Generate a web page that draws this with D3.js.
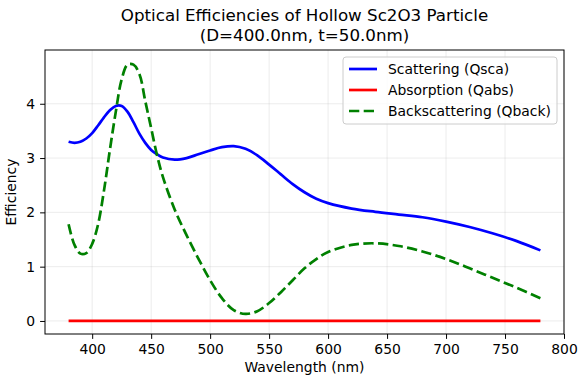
<!DOCTYPE html>
<html>
<head>
<meta charset="utf-8">
<script src="https://cdn.jsdelivr.net/npm/d3@7"></script>
<style>
  body { margin: 0; background: #fff; }
  svg { font-family: "DejaVu Sans", sans-serif; }
</style>
</head>
<body>
<div id="chart"></div>
<script>
// Data
const wavelengths = [380, 385, 390, 395, 400, 405, 410, 415, 420, 425, 430, 435, 440, 445, 450, 455, 460,
    470, 480, 490, 500, 510, 520, 530, 540, 550, 560, 570, 580, 590, 600, 620, 640, 660, 680, 700, 720, 740, 760, 780];
const qsca = [3.30, 3.28, 3.30, 3.36, 3.46, 3.60, 3.75, 3.88, 3.96, 3.96, 3.85, 3.66, 3.45, 3.28, 3.15, 3.07, 3.01,
    2.97, 3.00, 3.07, 3.14, 3.20, 3.22, 3.17, 3.05, 2.88, 2.70, 2.52, 2.37, 2.25, 2.17, 2.07, 2.01, 1.96, 1.91, 1.83, 1.73, 1.61, 1.47, 1.30];
const qabs = wavelengths.map(() => 0);
const qback = [1.78, 1.40, 1.24, 1.25, 1.42, 1.78, 2.40, 3.15, 3.85, 4.45, 4.72, 4.72, 4.55, 4.05, 3.55, 3.05, 2.65,
    2.05, 1.58, 1.15, 0.75, 0.42, 0.20, 0.13, 0.18, 0.33, 0.53, 0.75, 0.97, 1.14, 1.27, 1.40, 1.43, 1.38, 1.28, 1.14, 0.97, 0.79, 0.61, 0.42];
const xTicks = [400, 450, 500, 550, 600, 650, 700, 750, 800];
const yTicks = [0, 1, 2, 3, 4];

const series = [
    { name: "Scattering (Qsca)", values: qsca, color: "#0000ff", dash: null },
    { name: "Absorption (Qabs)", values: qabs, color: "#ff0000", dash: null },
    { name: "Backscattering (Qback)", values: qback, color: "#008000", dash: "10.3,4.4" }
];

const svg = d3.select("#chart").append("svg")
    .attr("width", 584)
    .attr("height", 388);

const margin = { top: 50, right: 20, bottom: 54, left: 45 };
const width = 584 - margin.left - margin.right;
const height = 388 - margin.top - margin.bottom;

const chart = svg.append("g")
    .attr("transform", `translate(${margin.left}, ${margin.top})`);

// Scales
const xScale = d3.scaleLinear().domain([360, 800]).range([0, width]);
const yScale = d3.scaleLinear().domain([-0.24, 4.99]).range([height, 0]);

// Grid
chart.append("g").selectAll("line")
    .data(xTicks)
    .enter().append("line")
    .attr("x1", d => xScale(d)).attr("x2", d => xScale(d))
    .attr("y1", 0).attr("y2", height)
    .attr("stroke", "#b0b0b0").attr("stroke-opacity", 0.3).attr("stroke-width", 0.8);

chart.append("g").selectAll("line")
    .data(yTicks)
    .enter().append("line")
    .attr("x1", 0).attr("x2", width)
    .attr("y1", d => yScale(d)).attr("y2", d => yScale(d))
    .attr("stroke", "#b0b0b0").attr("stroke-opacity", 0.3).attr("stroke-width", 0.8);

// Lines
const line = d3.line()
    .x((d, i) => xScale(wavelengths[i]))
    .y(d => yScale(d))
    .curve(d3.curveCatmullRom);

series.forEach(s => {
    chart.append("path")
        .datum(s.values)
        .attr("d", line)
        .attr("fill", "none")
        .attr("stroke", s.color)
        .attr("stroke-width", 2.7)
        .attr("stroke-dasharray", s.dash);
});

// Axes
const xAxis = chart.append("g")
    .attr("transform", `translate(0, ${height})`)
    .call(d3.axisBottom(xScale).tickValues(xTicks).tickSize(4.9).tickPadding(4.9));
const yAxis = chart.append("g")
    .call(d3.axisLeft(yScale).tickValues(yTicks).tickFormat(d3.format("d")).tickSize(4.9).tickPadding(4.9));

[xAxis, yAxis].forEach(a => {
    a.select(".domain").remove();
    a.selectAll("text").attr("font-size", "13.9px").attr("fill", "#000")
        .attr("font-family", "DejaVu Sans, sans-serif");
    a.selectAll("line").attr("stroke", "#000").attr("stroke-width", 1);
});

// Frame
chart.append("rect")
    .attr("width", width).attr("height", height)
    .attr("fill", "none").attr("stroke", "#000").attr("stroke-width", 1);

// Axis labels
chart.append("text")
    .attr("x", width / 2)
    .attr("y", height + 38)
    .attr("text-anchor", "middle")
    .attr("font-size", "13.9px")
    .text("Wavelength (nm)");

chart.append("text")
    .attr("transform", "rotate(-90)")
    .attr("x", -height / 2)
    .attr("y", -29)
    .attr("text-anchor", "middle")
    .attr("font-size", "13.9px")
    .text("Efficiency");

// Title
svg.append("text")
    .attr("x", margin.left + width / 2)
    .attr("y", 21)
    .attr("text-anchor", "middle")
    .attr("font-size", "16.7px")
    .text("Optical Efficiencies of Hollow Sc2O3 Particle");
svg.append("text")
    .attr("x", margin.left + width / 2)
    .attr("y", 41)
    .attr("text-anchor", "middle")
    .attr("font-size", "16.7px")
    .text("(D=400.0nm, t=50.0nm)");

// Legend
const legend = svg.append("g").attr("transform", "translate(343, 57)");
legend.append("rect")
    .attr("width", 214).attr("height", 67).attr("rx", 3)
    .attr("fill", "#fff").attr("fill-opacity", 0.8)
    .attr("stroke", "#cccccc").attr("stroke-width", 1);

const items = legend.selectAll("g.item")
    .data(series)
    .enter().append("g")
    .attr("class", "item")
    .attr("transform", (d, i) => `translate(0, ${12 + i * 21})`);

items.append("line")
    .attr("x1", 6).attr("x2", 34)
    .attr("stroke", d => d.color)
    .attr("stroke-width", 2.7)
    .attr("stroke-dasharray", d => d.dash);

items.append("text")
    .attr("x", 45)
    .attr("y", 5)
    .attr("font-size", "13.9px")
    .text(d => d.name);
</script>
</body>
</html>
